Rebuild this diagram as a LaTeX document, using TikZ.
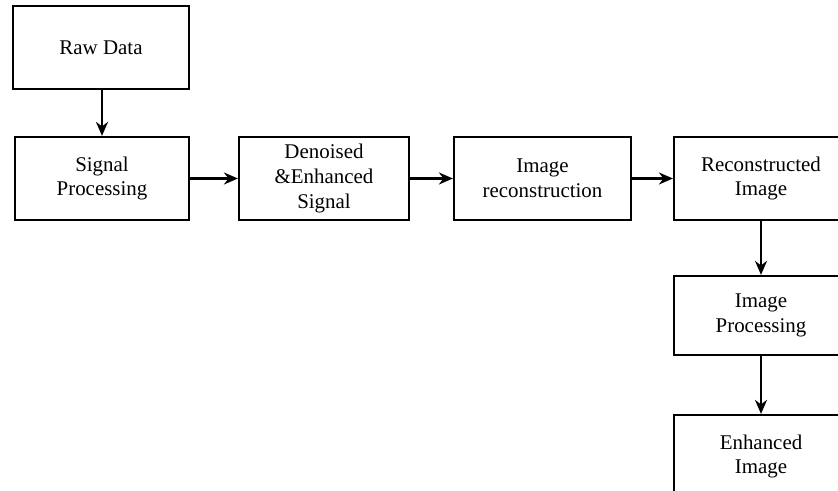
\documentclass[tikz,border=0pt]{standalone}
\usepackage{fontspec}
\setmainfont{Liberation Serif}
\usepackage{tikz}
\usetikzlibrary{arrows.meta}

\begin{document}
\begin{tikzpicture}[x=1bp,y=1bp,%
% common options for the boxes:
box/.style = {draw, line width=2.2bp, align=center, minimum height=83bp,
            inner sep=0, font=\fontsize{21}{25}\selectfont},
% common options for the arrows:
link/.style = {line width=2.2bp, -{Stealth[length=14bp,width=12bp]}}]
\clip (0,0) rectangle (838,-491);
\node[box,minimum width=176bp] (R0) at (101,-47.5) {Raw Data};
\node[box,minimum width=174bp] (S1) at (102,-178.5) {Signal\\Processing};
\node[box,minimum width=170bp] (S2) at (324,-178.5) {Denoised\\\&Enhanced\\Signal};
\node[box,minimum width=177bp] (S3) at (542.5,-178.5) {Image\\reconstruction};
\node[box,minimum width=174bp] (S4) at (761,-178.5) {Reconstructed\\Image};
\node[box,minimum width=174bp,minimum height=79bp] (S5) at (761,-315.5) {Image\\Processing};
\node[box,minimum width=174bp] (S6) at (761,-456.5) {Enhanced\\Image};
\draw[link] (R0.south -| S1.north) to (S1.north);
\draw[link] (S1.east) to (S2.west);
\draw[link] (S2.east) to (S3.west);
\draw[link] (S3.east) to (S4.west);
\draw[link] (S4.south) to (S5.north);
\draw[link] (S5.south) to (S6.north);
\end{tikzpicture}
\end{document}
